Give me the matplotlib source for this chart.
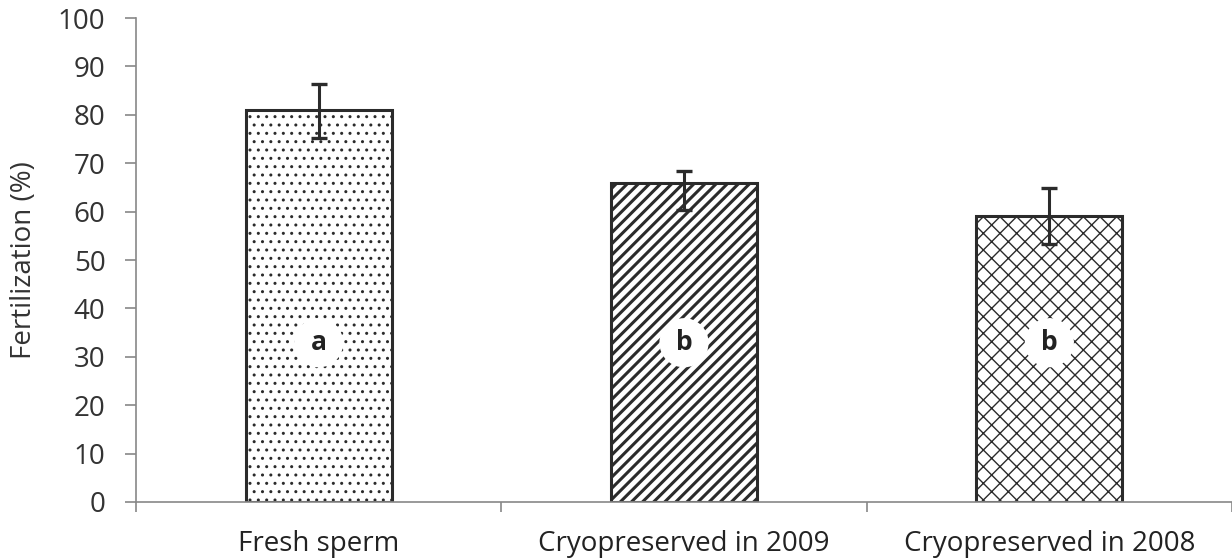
import matplotlib
matplotlib.use("Agg")
import matplotlib.pyplot as plt
import numpy as np

# data
groups = ["Fresh sperm", "Cryopreserved in 2009", "Cryopreserved in 2008"]
fertilization = [81.0, 66.0, 59.1]
err_low = [5.7, 5.7, 5.8]
err_high = [5.4, 2.4, 5.7]
letters = ["a", "b", "b"]
letter_y = [32.9, 32.9, 32.9]

hatches = ["..", "///", "xx"]
hatch_lw = [1.0, 2.2, 1.0]

plt.rcParams["font.family"] = ["Open Sans", "DejaVu Sans"]
plt.rcParams["hatch.color"] = "#222222"

fig = plt.figure(figsize=(12.32, 5.58), dpi=100)
ax = fig.add_axes([0.1104, 0.1004, 0.8896, 0.8673])

x = np.arange(len(groups))
edge = "#2b2b2b"
for i in range(len(groups)):
    plt.rcParams["hatch.linewidth"] = hatch_lw[i]
    b = ax.bar(x[i], fertilization[i], width=0.4, color="white", edgecolor=edge,
               linewidth=2.2, hatch=hatches[i], zorder=2)
    for p in b.patches:
        if hasattr(p, "set_hatch_linewidth"):
            p.set_hatch_linewidth(hatch_lw[i])

ax.errorbar(x, fertilization, yerr=[err_low, err_high], fmt="none", ecolor=edge,
            elinewidth=2.2, capsize=6, capthick=2.4, zorder=3)

for i, t in enumerate(letters):
    ax.text(x[i], letter_y[i], t, ha="center", va="center", fontsize=19,
            fontweight="bold", color="#222222", zorder=4,
            bbox=dict(boxstyle="circle,pad=0.42", fc="white", ec="none"))

ax.set_xlim(-0.5, 2.5)
ax.set_ylim(0, 100)
ax.set_yticks(np.arange(0, 101, 10))
ax.set_xticks([-0.5, 0.5, 1.5, 2.5])
ax.set_xticklabels([])
ax.set_xticks(x, minor=True)
ax.set_xticklabels(groups, minor=True)
ax.tick_params(axis="x", which="minor", length=0, pad=20, labelsize=20,
               labelcolor="#222222")
ax.tick_params(axis="x", which="major", length=7, color="#888888", width=1.2)
ax.tick_params(axis="y", length=8, color="#888888", width=1.2, labelsize=20,
               labelcolor="#333333", pad=14)
ax.set_ylabel("Fertilization (%)", fontsize=20, color="#333333", labelpad=14)

for s in ["top", "right"]:
    ax.spines[s].set_visible(False)
for s in ["left", "bottom"]:
    ax.spines[s].set_color("#888888")
    ax.spines[s].set_linewidth(1.2)

fig.savefig("out.png", dpi=100)
